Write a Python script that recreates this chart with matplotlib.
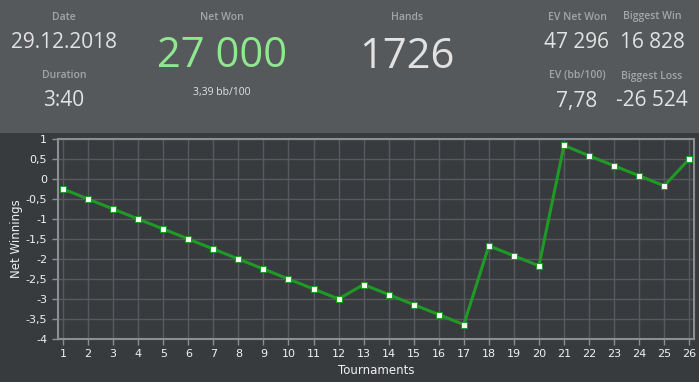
import numpy as np
import matplotlib.pyplot as plt
from matplotlib.patches import Rectangle

# chart data
tournaments = list(range(1, 27))
net_winnings = [-0.25, -0.5, -0.75, -1.0, -1.25, -1.5, -1.75, -2.0, -2.25, -2.5,
                -2.75, -3.0, -2.64, -2.89, -3.14, -3.39, -3.64, -1.67, -1.92, -2.17,
                0.84, 0.58, 0.33, 0.08, -0.17, 0.5]
y_ticks = [1, 0.5, 0, -0.5, -1, -1.5, -2, -2.5, -3, -3.5, -4]

# summary panel
stats = [
    ("Date", "29.12.2018", 64, 17, 43, 15),
    ("Duration", "3:40", 64, 76, 101, 15),
    ("EV Net Won", "47 296", 577, 17, 43, 15),
    ("Biggest Win", "16 828", 652, 17, 43, 15),
    ("EV (bb/100)", "7,78", 577, 76, 101, 15),
    ("Biggest Loss", "-26 524", 652, 76, 101, 15),
]
net_won = "27 000"
bb_per_100 = "3,39 bb/100"
hands = "1726"

W, H = 699, 382
BG = "#383b3e"
PANEL = "#56595c"
LABEL = "#a3a6a9"
VALUE = "#e2e2e2"
GREEN = "#8fe88f"

fig = plt.figure(figsize=(W / 100, H / 100), dpi=100, facecolor=BG)
font = "Open Sans"


def fx(px):
    return px / W


def fy(py):
    return 1 - py / H


fig.patches.append(Rectangle((0, fy(133)), 1, 133 / H, transform=fig.transFigure,
                             facecolor=PANEL, edgecolor="none", zorder=0))

for label, value, x, ly, vy, size in stats:
    fig.text(fx(x), fy(ly), label, color=LABEL, fontsize=7.5, weight="semibold",
             ha="center", va="center", family=font)
    fig.text(fx(x), fy(vy), value, color=VALUE, fontsize=size,
             ha="center", va="center", family=font)

fig.text(fx(222), fy(17), "Net Won", color=LABEL, fontsize=7.5, weight="semibold",
         ha="center", va="center", family=font)
fig.text(fx(222), fy(56), net_won, color=GREEN, fontsize=30,
         ha="center", va="center", family=font)
fig.text(fx(222), fy(92), bb_per_100, color=VALUE, fontsize=7.5,
         ha="center", va="center", family=font)
fig.text(fx(407), fy(17), "Hands", color=LABEL, fontsize=7.5, weight="semibold",
         ha="center", va="center", family=font)
fig.text(fx(407), fy(57), hands, color=VALUE, fontsize=30,
         ha="center", va="center", family=font)

# chart
ax = fig.add_axes([fx(57.5), fy(339), fx(694 - 57.5), (339 - 139) / H])
ax.set_facecolor(BG)
ax.plot(tournaments, net_winnings, color="#1f9a26", lw=2.2, marker="s", ms=4,
        mfc="white", mec="#1f9a26", mew=0.8, zorder=3)
ax.set_xlim(0.78, 26.19)
ax.set_ylim(-4, 1)
ax.set_xticks(tournaments)
ax.set_yticks(y_ticks)
ax.set_yticklabels([str(v).replace(".", ",") for v in y_ticks])
ax.grid(True, color="#565a5e", lw=1)
for s in ax.spines.values():
    s.set_color("#8c8f92")
    s.set_linewidth(1.5)
ax.tick_params(colors="#8c8f92", labelcolor="#f0f0f0", labelsize=8, length=4, width=1)
ax.set_xlabel("Tournaments", color="#f0f0f0", fontsize=8.5, labelpad=3)
ax.set_ylabel("Net Winnings", color="#f0f0f0", fontsize=8.5, labelpad=2)

fig.savefig("out.png", dpi=100, facecolor=BG)
